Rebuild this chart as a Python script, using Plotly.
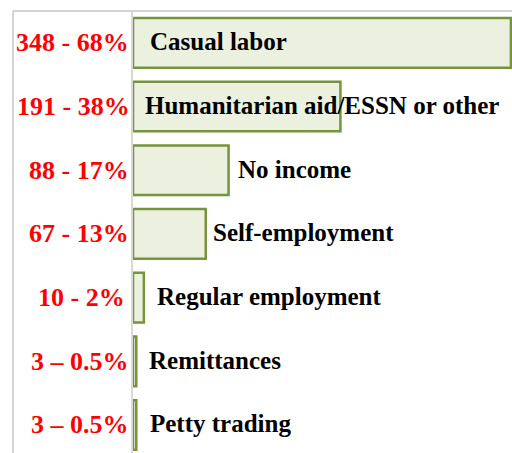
import plotly.graph_objects as go

categories = ["Casual labor", "Humanitarian aid/ESSN or other", "No income",
              "Self-employment", "Regular employment", "Remittances", "Petty trading"]
counts = [348, 191, 88, 67, 10, 3, 3]
value_labels = ["348 - 68%", "191 - 38%", "88 - 17%", "67 - 13%", "10 - 2%",
                "3 \u2013 0.5%", "3 \u2013 0.5%"]

# label placement style: (anchor at bar end?, pixel shift)
label_at_end = [False, False, True, True, True, True, True]
label_shift = [15, 10, 7, 5, 11, 11, 12]
value_shift = [-2, -1, -2, -2, -6, -2, -2]

W, H = 512, 453
FONT = "Liberation Serif"

def px(x):
    return x / W

def py(y):
    return 1 - y / H

fig = go.Figure()
fig.add_trace(go.Bar(
    x=counts, y=categories, orientation="h",
    marker=dict(color="#EBF1DE", line=dict(color="#77933C", width=2.5)),
    hoverinfo="skip",
))

for cat, val, at_end, sh in zip(categories, counts, label_at_end, label_shift):
    fig.add_annotation(
        x=val if at_end else 0, y=cat, xref="x", yref="y",
        text="<b>%s</b>" % cat, showarrow=False,
        xanchor="left", yanchor="middle", xshift=sh, yshift=1,
        font=dict(family=FONT, size=25, color="black"),
    )

for cat, lab, sh in zip(categories, value_labels, value_shift):
    fig.add_annotation(
        x=0, y=cat, xref="x", yref="y",
        text="<b>%s</b>" % lab, showarrow=False,
        xanchor="right", yanchor="middle", xshift=sh, yshift=0,
        font=dict(family=FONT, size=26, color="#FF0000"),
    )

# frame lines (top and left)
fig.add_shape(type="line", xref="paper", yref="paper",
              x0=px(13), x1=1, y0=py(11), y1=py(11),
              line=dict(color="#D3D3D3", width=2))
fig.add_shape(type="line", xref="paper", yref="paper",
              x0=px(13), x1=px(13), y0=0, y1=py(11),
              line=dict(color="#D3D3D3", width=2))

fig.update_layout(
    width=W, height=H, template="none",
    margin=dict(l=0, r=0, t=0, b=0),
    paper_bgcolor="white", plot_bgcolor="white",
    bargap=0.22, showlegend=False,
    xaxis=dict(domain=[px(133), 1], range=[0, 349], showgrid=False, zeroline=False,
               showticklabels=False, showline=False, ticks="", automargin=False),
    yaxis=dict(domain=[0, py(11)], range=[6.44, -0.5], showgrid=False,
               zeroline=False, showline=True, linecolor="#D9D9D9", linewidth=1.5,
               ticks="", showticklabels=False, automargin=False),
)

fig.write_html("out.html",
               config={"displayModeBar": False},
               post_script="document.body.style.margin='0';"
                           "document.body.style.overflow='hidden';")
